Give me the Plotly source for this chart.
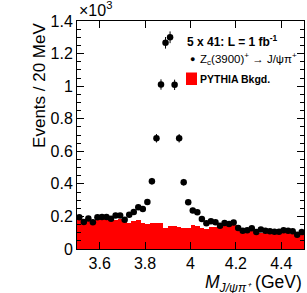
import numpy as np
import plotly.graph_objects as go

# bin centres (20 MeV bins from 3.5 to 4.5 GeV)
bin_centers = [round(3.51 + 0.02 * i, 2) for i in range(50)]

signal_counts = [195, 166, 188, 164, 195, 197, 197, 185, 205, 205,
                 180, 210, 227, 256, 246, 289, 416, 680, 1010, 1266,
                 1300, 1008, 680, 410, 287, 237, 225, 184, 158, 170,
                 164, 143, 160, 153, 162, 129, 112, 115, 127, 104,
                 119, 112, 109, 106, 106, 115, 112, 109, 88, 104]

bkg_counts = [185, 182, 180, 178, 182, 185, 183, 180, 178, 182,
              172, 158, 172, 178, 160, 155, 160, 162, 160, 130,
              140, 140, 135, 130, 130, 145, 140, 130, 120, 138,
              138, 138, 140, 140, 147, 147, 120, 116, 112, 102,
              100, 100, 98, 98, 100, 98, 96, 95, 92, 95]

y_tickvals = [0, 200, 400, 600, 800, 1000, 1200, 1400]
y_ticktext = ["0", "0.2", "0.4", "0.6", "0.8", "1", "1.2", "1.4"]
x_tickvals = [3.6, 3.8, 4.0, 4.2, 4.4]
x_ticktext = ["3.6", "3.8", "4", "4.2", "4.4"]

FONT = "Liberation Sans, Arial, sans-serif"

fig = go.Figure()
fig.add_trace(go.Bar(x=bin_centers, y=bkg_counts, width=0.02,
                     marker=dict(color="#ff0000", line=dict(width=0)),
                     showlegend=False))
fig.add_trace(go.Scatter(x=bin_centers, y=signal_counts, mode="markers",
                         marker=dict(color="black", size=6.5),
                         error_y=dict(type="data", array=list(np.sqrt(signal_counts)),
                                      color="black", thickness=1, width=0),
                         showlegend=False))

fig.update_layout(
    width=307, height=293,
    margin=dict(l=77, r=3, t=21, b=44),
    paper_bgcolor="white", plot_bgcolor="white",
    bargap=0, showlegend=False,
    font=dict(family=FONT, size=16, color="black"),
)
fig.update_xaxes(range=[3.5, 4.5], tickvals=x_tickvals, ticktext=x_ticktext,
                 ticks="inside", ticklen=7, tickcolor="black",
                 showline=True, linecolor="black", linewidth=1, mirror="allticks",
                 showgrid=False, zeroline=False, tickfont=dict(size=16))
fig.update_yaxes(range=[0, 1400], tickvals=y_tickvals, ticktext=y_ticktext,
                 ticks="inside", ticklen=7, tickcolor="black",
                 minor=dict(ticks="inside", ticklen=4, dtick=50, tickcolor="black", showgrid=False),
                 showline=True, linecolor="black", linewidth=1, mirror="allticks",
                 showgrid=False, zeroline=False, tickfont=dict(size=16))

ann = [
    dict(text="×10<sup>3</sup>", x=0, y=1, xref="paper", yref="paper",
         xanchor="left", yanchor="bottom", showarrow=False, font=dict(size=16)),
    dict(text="Events / 20 MeV", x=-37.5 / 226.5, y=1, xref="paper", yref="paper",
         xanchor="center", yanchor="top", textangle=-90, showarrow=False,
         font=dict(size=17)),
    dict(text="<i>M</i><sub><i>J/ψπ⁺</i></sub> (GeV)", x=1, y=-34 / 228, xref="paper",
         yref="paper", xanchor="right", yanchor="middle", showarrow=False,
         font=dict(size=17.5)),
    dict(text="<b>5 x 41: L = 1 fb<sup>-1</sup></b>", x=(185 - 77) / 227, y=1 - (41 - 21) / 228,
         xref="paper", yref="paper", xanchor="left", yanchor="middle",
         showarrow=False, font=dict(size=12)),
    dict(text="●", x=(192 - 77) / 227, y=1 - (59 - 21) / 228,
         xref="paper", yref="paper", xanchor="center", yanchor="middle",
         showarrow=False, font=dict(size=9)),
    dict(text="Z<sub>c</sub>(3900)<sup>+</sup> → J/ψπ<sup>+</sup>", x=(198 - 77) / 227,
         y=1 - (59 - 21) / 228, xref="paper", yref="paper", xanchor="left",
         yanchor="middle", showarrow=False, font=dict(size=11.5)),
    dict(text="<b>PYTHIA Bkgd.</b>", x=(198 - 77) / 227, y=1 - (79 - 21) / 228,
         xref="paper", yref="paper", xanchor="left", yanchor="middle",
         showarrow=False, font=dict(size=10.5)),
]
fig.update_layout(annotations=ann)
fig.add_shape(type="rect", xref="paper", yref="paper",
              x0=(186 - 77) / 227, x1=(197 - 77) / 227,
              y0=1 - (85 - 21) / 228, y1=1 - (72.5 - 21) / 228,
              fillcolor="#ff0000", line=dict(width=0))

fig.write_html("out.html", config={"displayModeBar": False},
               post_script="document.body.style.margin='0';")
